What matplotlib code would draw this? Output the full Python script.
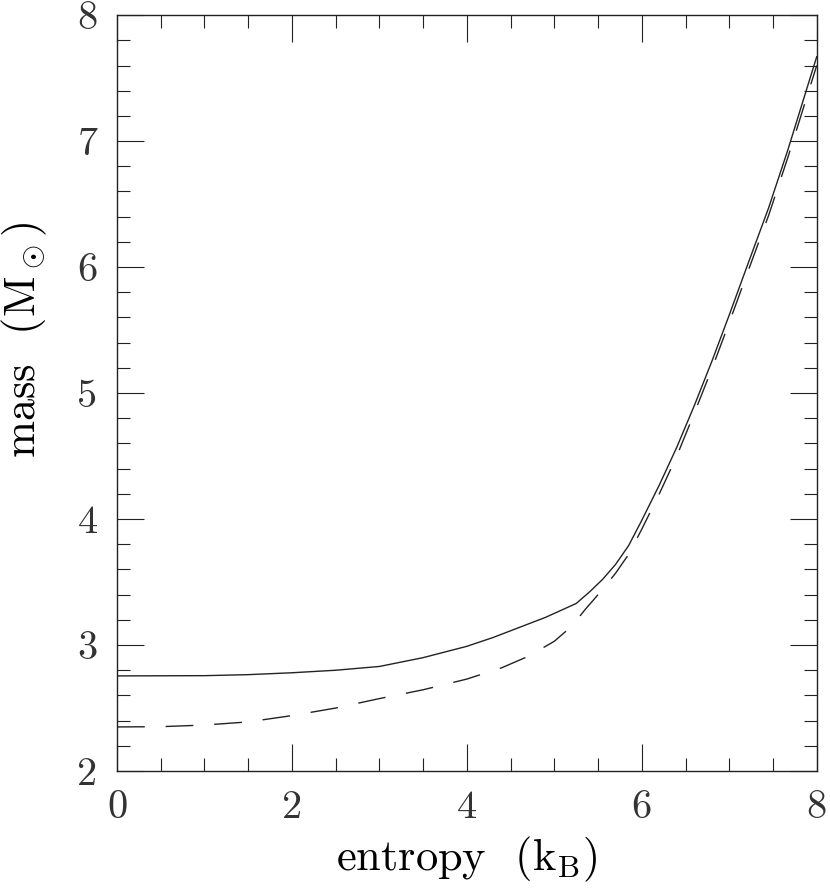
import numpy as np
import matplotlib
matplotlib.use('Agg')
import matplotlib.pyplot as plt
from matplotlib.ticker import MultipleLocator, FormatStrFormatter

# values
s_solid = [0.0, 1.0, 1.5, 2.0, 2.5, 3.0, 3.5, 4.0, 4.3, 4.6, 4.9, 5.25,
           5.4, 5.55, 5.7, 5.85, 6.0, 6.2, 6.4, 6.6, 6.8, 7.0, 7.2, 7.45, 7.67, 8.0]
m_solid = [2.755, 2.757, 2.765, 2.78, 2.80, 2.83, 2.90, 2.99, 3.06, 3.14, 3.22, 3.33,
           3.42, 3.52, 3.64, 3.79, 3.99, 4.27, 4.57, 4.90, 5.25, 5.62, 6.00, 6.47, 6.93, 7.67]

s_dash = [0.0, 0.5, 1.0, 1.5, 2.0, 2.5, 3.0, 3.5, 4.0, 4.4, 4.7, 5.0, 5.2, 5.35,
          5.55, 5.7, 5.85, 6.0, 6.2, 6.4, 6.6, 6.8, 7.0, 7.2, 7.45, 7.67, 8.0]
m_dash = [2.35, 2.352, 2.365, 2.39, 2.44, 2.50, 2.575, 2.645, 2.73, 2.82, 2.91, 3.03, 3.15, 3.28,
          3.44, 3.57, 3.72, 3.92, 4.20, 4.50, 4.84, 5.19, 5.56, 5.94, 6.41, 6.87, 7.60]

plt.rcParams['font.family'] = 'serif'
plt.rcParams['font.serif'] = ['cmr10']
plt.rcParams['mathtext.fontset'] = 'cm'
plt.rcParams['axes.unicode_minus'] = False
plt.rcParams['text.color'] = '#333333'

fig = plt.figure(figsize=(8.3, 8.89), dpi=100)
ax = fig.add_axes([0.141, 0.1327, 0.843, 0.8503])

ax.plot(s_solid, m_solid, color='#222222', lw=1.0)
ax.plot(s_dash, m_dash, color='#222222', lw=1.0, dashes=(20, 15))

ax.set_xlim(0, 8)
ax.set_ylim(2, 8)
ax.xaxis.set_major_locator(MultipleLocator(2))
ax.xaxis.set_minor_locator(MultipleLocator(0.5))
ax.yaxis.set_major_locator(MultipleLocator(1))
ax.yaxis.set_minor_locator(MultipleLocator(0.2))
ax.xaxis.set_major_formatter(FormatStrFormatter('%d'))
ax.yaxis.set_major_formatter(FormatStrFormatter('%d'))

ax.tick_params(which='both', direction='in', top=True, right=True, width=0.8,
               color='#222222', labelcolor='#333333')
ax.tick_params(which='major', length=19.5)
ax.tick_params(which='minor', length=9.5)
ax.tick_params(axis='x', which='major', pad=14, labelsize=29)
ax.tick_params(axis='y', which='major', pad=14, labelsize=29)
for sp in ax.spines.values():
    sp.set_linewidth(1.0)
    sp.set_color('#222222')

ax.set_xlabel(r'entropy  $(\mathrm{k_B})$', fontsize=32, labelpad=6)
ax.set_ylabel(r'mass  $(\mathrm{M}_\odot)$', fontsize=32)
ax.yaxis.set_label_coords(-0.097, 0.57)

fig.savefig('out.png', dpi=100)
